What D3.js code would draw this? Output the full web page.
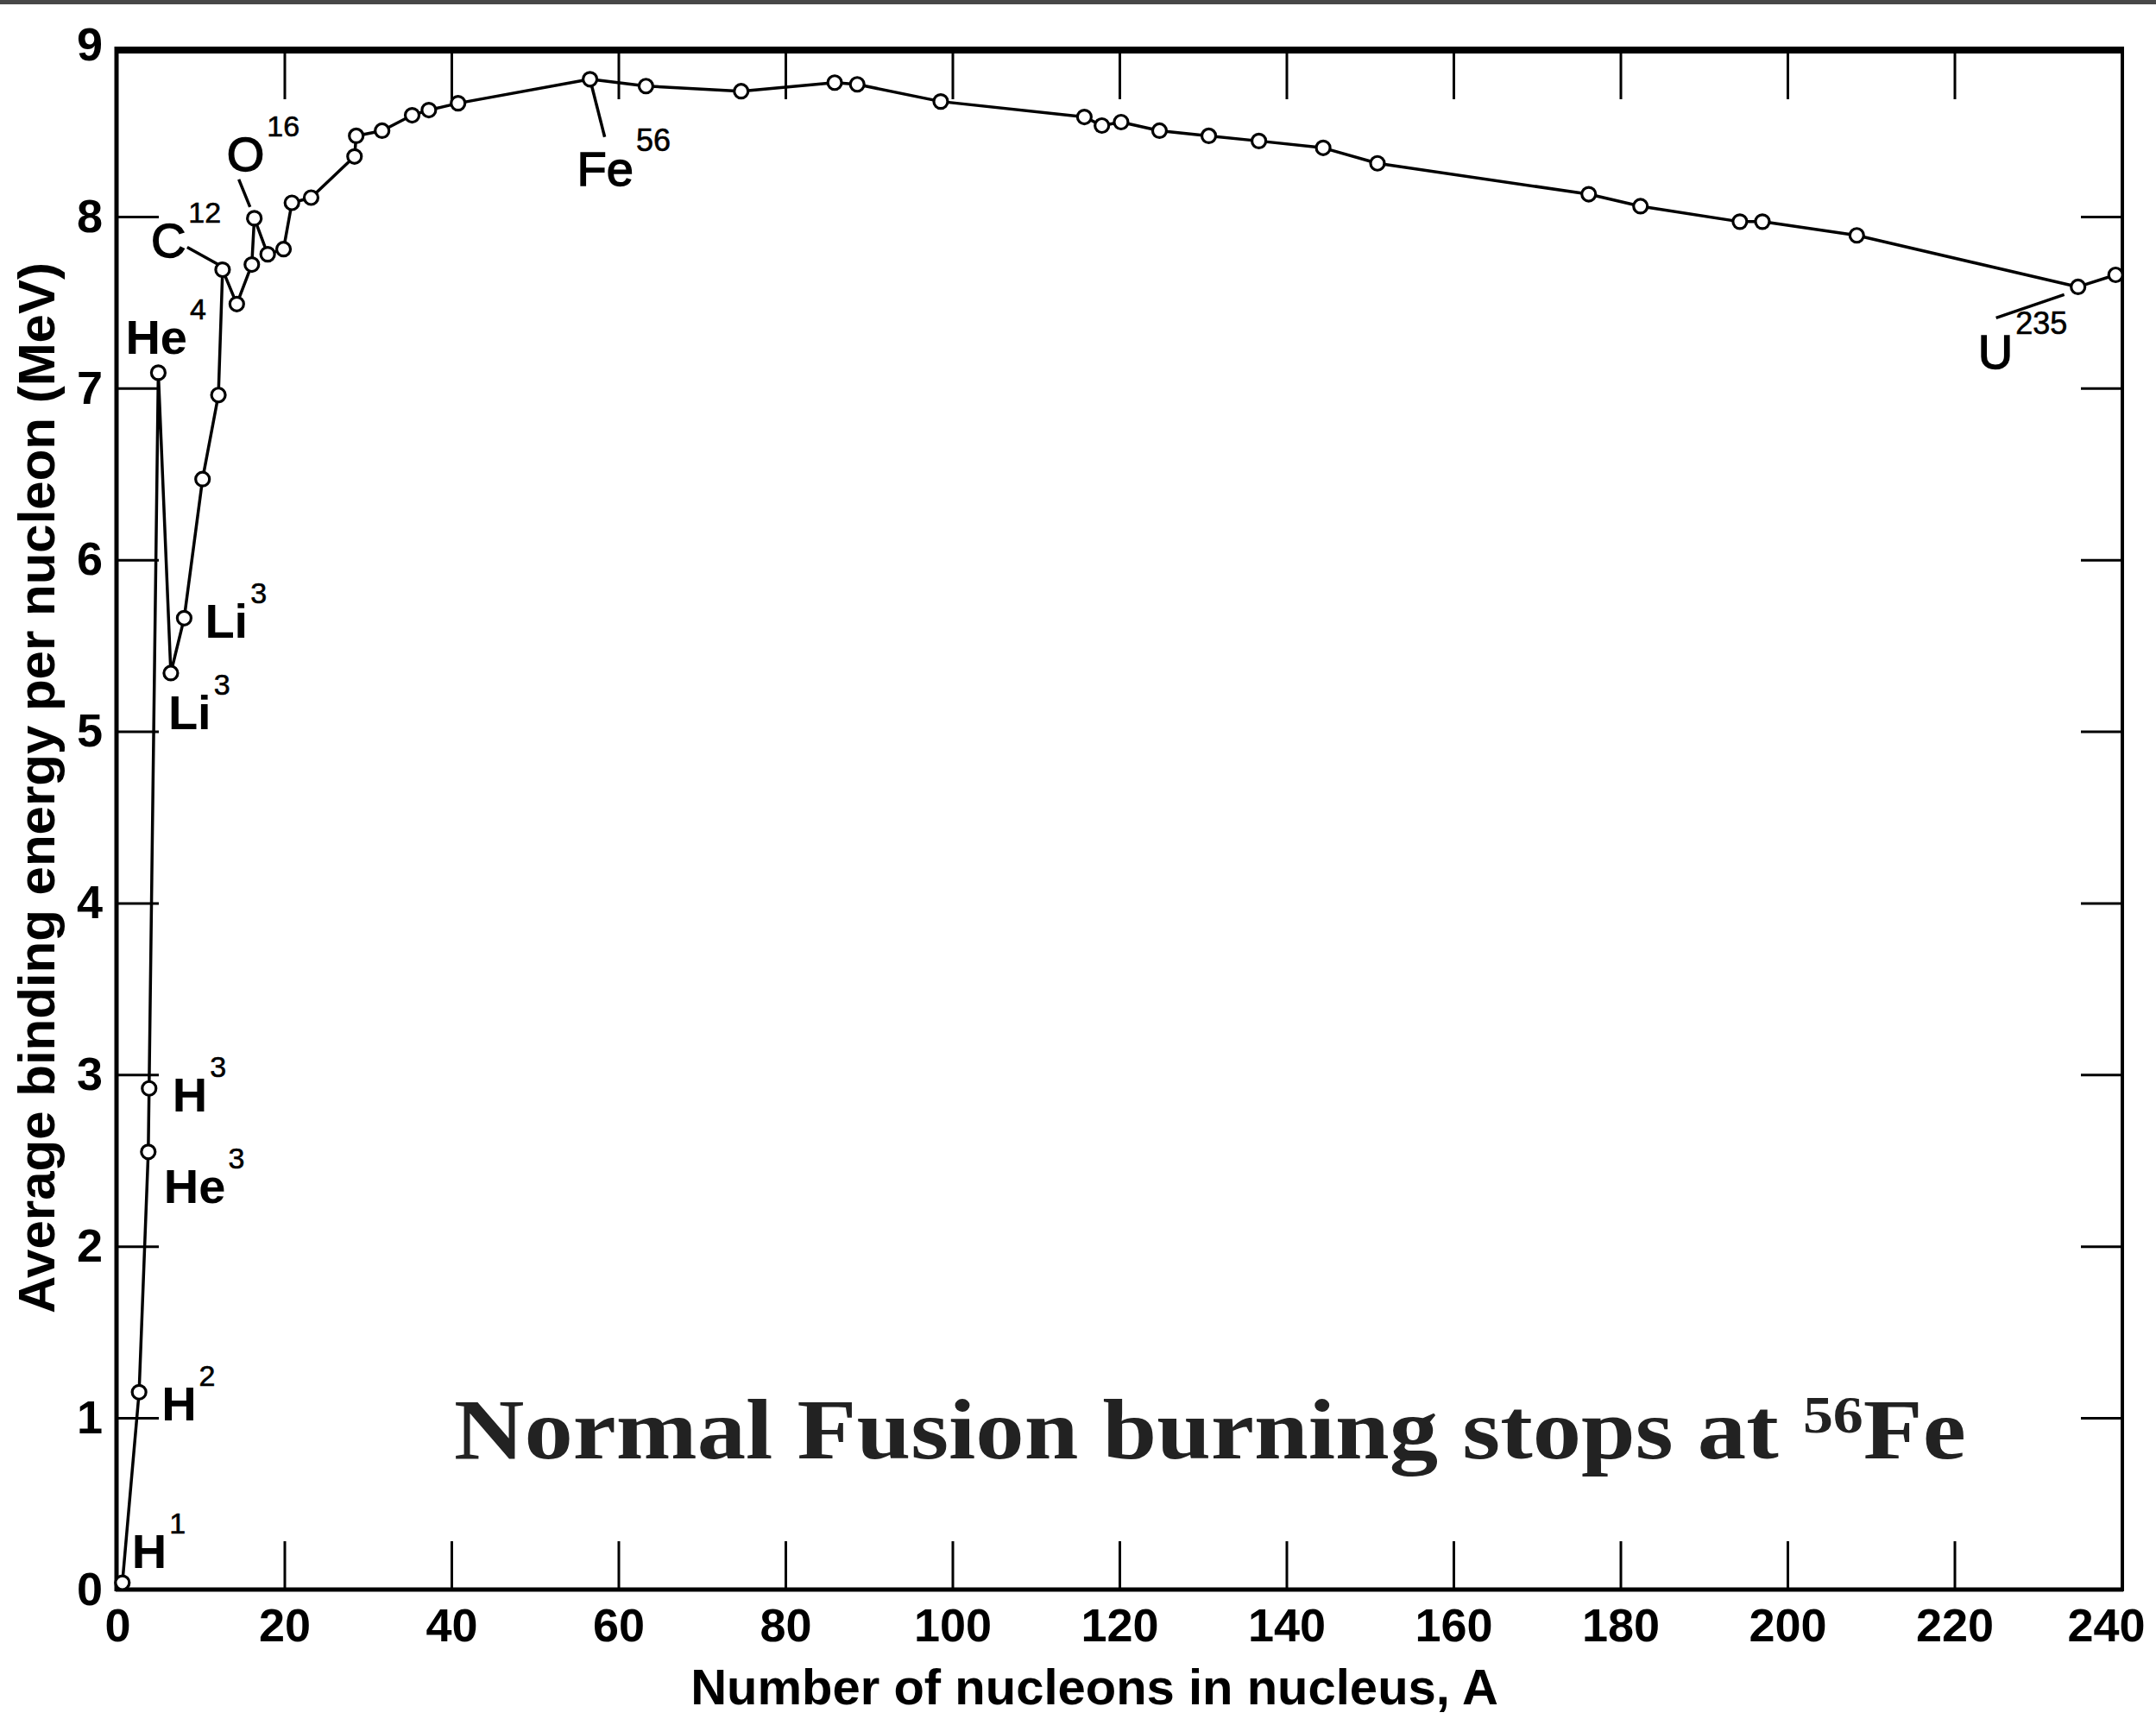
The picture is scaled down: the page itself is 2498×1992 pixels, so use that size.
<!DOCTYPE html>
<html>
<head>
<meta charset="utf-8">
<script src="https://cdn.jsdelivr.net/npm/d3@7"></script>
<style>
  html, body { margin: 0; padding: 0; background: #fff; }
  svg { display: block; }
</style>
</head>
<body>
<div id="main"></div>
<script>
// nucleon number A and average binding energy per nucleon (MeV)
let massNumber = [0.6, 2.6, 3.7, 3.8, 4.9, 6.4, 8.0, 10.2, 12.1, 12.6, 14.3, 16.1, 16.4, 18.0, 19.9,
    20.9, 23.2, 28.4, 28.6, 31.7, 35.3, 37.3, 40.8, 56.6, 63.3, 74.7, 85.9, 88.6, 98.6,
    115.8, 117.9, 120.2, 124.8, 130.7, 136.7, 144.4, 150.9, 176.2, 182.4, 194.3, 197.0,
    208.3, 234.8, 239.3]
let bindingEnergy = [0.04, 1.15, 2.55, 2.92, 7.09, 5.34, 5.66, 6.47, 6.96, 7.69, 7.49, 7.72, 7.99, 7.78, 7.81,
    8.08, 8.11, 8.35, 8.47, 8.50, 8.59, 8.62, 8.66, 8.80, 8.76, 8.73, 8.78, 8.77, 8.67,
    8.58, 8.53, 8.55, 8.50, 8.47, 8.44, 8.40, 8.31, 8.13, 8.06, 7.97, 7.97,
    7.89, 7.59, 7.66]

let xTicks = [0, 20, 40, 60, 80, 100, 120, 140, 160, 180, 200, 220, 240]
let yTicks = [0, 1, 2, 3, 4, 5, 6, 7, 8, 9]

// labelled nuclides: index into the arrays above, symbol and superscript
let labelIndex = [0, 1, 2, 3, 4, 5, 6, 9, 12, 23, 42]
let labelSymbol = ["H", "H", "He", "H", "He", "Li", "Li", "C", "O", "Fe", "U"]
let labelMass = ["1", "2", "3", "3", "4", "3", "3", "12", "16", "56", "235"]

let width = 2498
let height = 1992

let svg = d3.select('#main')
            .append('svg')
            .attr('width', width)
            .attr('height', height)

let xScale = d3.scaleLinear().domain([0, 240]).range([136, 2458])
let yScale = d3.scaleLinear().domain([0, 9]).range([1842, 52])

let sans = "'Liberation Sans', Arial, Helvetica, sans-serif"

// dark strip along the top edge of the scan
svg.append('rect')
    .attr('x', 0).attr('y', 0)
    .attr('width', width).attr('height', 5)
    .style('fill', '#484848')

let frameTop = yScale(9) + 6

// axes with inward ticks
let xAxis = d3.axisBottom(xScale).tickValues(xTicks).tickSizeInner(-56).tickSizeOuter(0).tickPadding(22)
let gx = svg.append('g')
    .attr('transform', `translate(0, ${yScale(0)})`)
    .call(xAxis)
gx.select('.domain').remove()
gx.selectAll('.tick').filter((d) => d === 0 || d === 240).select('line').remove()
gx.selectAll('.tick').filter((d) => d === 240).select('text').attr('dx', -18)

let xTop = d3.axisTop(xScale).tickValues(xTicks.slice(1, -1)).tickSizeInner(-57).tickSizeOuter(0).tickFormat('')
let gxt = svg.append('g')
    .attr('transform', `translate(0, ${frameTop})`)
    .call(xTop)
gxt.select('.domain').remove()

let yAxis = d3.axisLeft(yScale).tickValues(yTicks).tickSizeInner(-48).tickSizeOuter(0).tickPadding(17)
let gy = svg.append('g')
    .attr('transform', `translate(${xScale(0)}, 0)`)
    .call(yAxis)
gy.select('.domain').remove()
gy.selectAll('.tick').filter((d) => d === 0 || d === 9).select('line').remove()

let yRight = d3.axisRight(yScale).tickValues(yTicks.slice(1, -1)).tickSizeInner(-47).tickSizeOuter(0).tickFormat('')
let gyr = svg.append('g')
    .attr('transform', `translate(${xScale(240)}, 0)`)
    .call(yRight)
gyr.select('.domain').remove()

svg.selectAll('.tick line').style('stroke', '#000').style('stroke-width', 3)
svg.selectAll('.tick text')
    .style('font-family', sans)
    .style('font-size', '54px')
    .style('font-weight', 'bold')
    .style('fill', '#000')

// frame
let frame = svg.append('g').style('stroke', '#000').style('fill', 'none')
frame.append('line')
    .attr('x1', xScale(0) - 2).attr('x2', xScale(240) + 2)
    .attr('y1', frameTop).attr('y2', frameTop)
    .style('stroke-width', 8)
frame.append('line')
    .attr('x1', xScale(0) - 2).attr('x2', xScale(240) + 2)
    .attr('y1', yScale(0)).attr('y2', yScale(0))
    .style('stroke-width', 5)
frame.append('line')
    .attr('x1', xScale(0) - 1).attr('x2', xScale(0) - 1)
    .attr('y1', frameTop - 4).attr('y2', yScale(0) + 2)
    .style('stroke-width', 5)
frame.append('line')
    .attr('x1', xScale(240) + 1).attr('x2', xScale(240) + 1)
    .attr('y1', frameTop - 4).attr('y2', yScale(0) + 2)
    .style('stroke-width', 4)

// axis titles
svg.append('text')
    .attr('x', xScale(117))
    .attr('y', 1975)
    .style('text-anchor', 'middle')
    .style('font-family', sans)
    .style('font-size', '58px')
    .style('font-weight', 'bold')
    .text('Number of nucleons in nucleus, A')

svg.append('text')
    .attr('transform', 'translate(63, 913) rotate(-90)')
    .style('text-anchor', 'middle')
    .style('font-family', sans)
    .style('font-size', '60px')
    .style('font-weight', 'bold')
    .text('Average binding energy per nucleon (MeV)')

let points = massNumber.map((a, i) => ({ a: a, e: bindingEnergy[i] }))

let line = d3.line()
    .x((d) => xScale(d.a))
    .y((d) => yScale(d.e))

svg.append('path')
    .datum(points)
    .attr('d', line)
    .style('fill', 'none')
    .style('stroke', '#000')
    .style('stroke-width', 3.5)
    .style('stroke-linejoin', 'round')

// label placement relative to each labelled point (pixels)
let labelOffset = [[11, -17], [26, 33], [18, 59], [27, 27], [-38, -22], [-3, 65], [24, 23],
                   [-83, -15], [-32, -55], [-15, 123], [-116, 95]]
let leader = { 7: [-41, -26, -5, -6], 8: [-18, -45, -5, -13], 9: [0, 0, 17, 67], 10: [-95, 36, -16, 9] }

Object.keys(leader).forEach((k) => {
    let p = points[labelIndex[k]]
    let l = leader[k]
    svg.append('line')
        .attr('x1', xScale(p.a) + l[0]).attr('y1', yScale(p.e) + l[1])
        .attr('x2', xScale(p.a) + l[2]).attr('y2', yScale(p.e) + l[3])
        .style('stroke', '#000')
        .style('stroke-width', 3.5)
})

svg.selectAll('circle')
    .data(points)
    .enter()
    .append('circle')
    .attr('cx', (d) => xScale(d.a))
    .attr('cy', (d) => yScale(d.e))
    .attr('r', 8)
    .style('fill', '#fff')
    .style('stroke', '#000')
    .style('stroke-width', 3.2)

labelIndex.forEach((idx, i) => {
    let p = points[idx]
    let bx = xScale(p.a) + labelOffset[i][0]
    let by = yScale(p.e) + labelOffset[i][1]
    let heavy = i < 7
    let sym = svg.append('text')
        .attr('x', bx)
        .attr('y', by)
        .style('font-family', sans)
        .style('font-size', '56px')
        .style('font-weight', heavy ? 'bold' : 'normal')
        .style('stroke', heavy ? 'none' : '#000')
        .style('stroke-width', 1.5)
        .text(labelSymbol[i])
    let w = sym.node().getComputedTextLength()
    svg.append('text')
        .attr('x', bx + w + 3)
        .attr('y', by - 40)
        .style('font-family', sans)
        .style('font-size', i > 8 ? '36px' : '34px')
        .style('stroke', '#000')
        .style('stroke-width', 0.6)
        .text(labelMass[i])
})

// annotation
let note = svg.append('text')
    .style('font-family', "'Liberation Serif', 'Times New Roman', serif")
    .style('font-size', '100px')
    .style('font-weight', 'bold')
    .style('fill', '#222')
note.append('tspan').text('Normal Fusion burning stops at ')
note.append('tspan').attr('dy', -30).style('font-size', '62px').text('56')
note.append('tspan').attr('dy', 30).text('Fe')
let noteWidth = note.node().getComputedTextLength()
note.attr('transform', `translate(526, 1690) scale(${1752 / noteWidth}, 1)`)
</script>
</body>
</html>
